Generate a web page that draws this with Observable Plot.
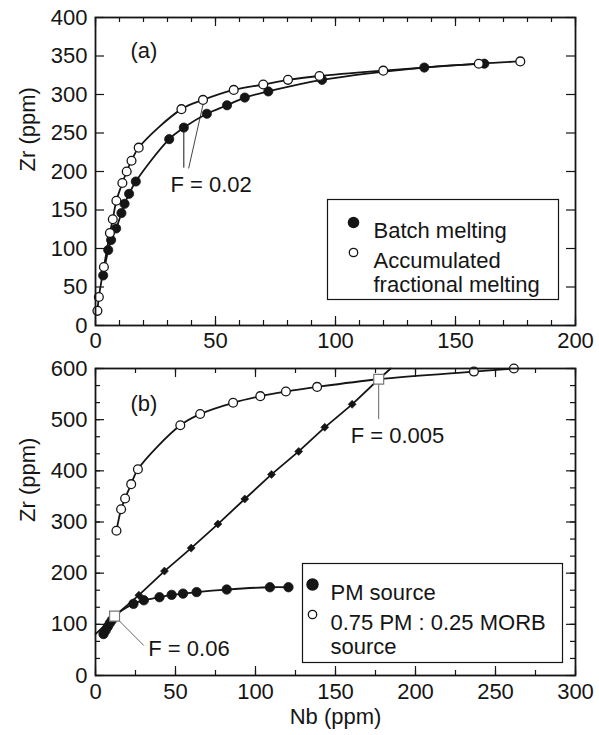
<!DOCTYPE html>
<html><head><meta charset="utf-8">
<script src="https://cdn.jsdelivr.net/npm/d3@7"></script>
<script src="https://cdn.jsdelivr.net/npm/@observablehq/plot@0.6"></script>
<style>
html,body{margin:0;padding:0;background:#fff}
#chart svg{display:block}
</style>
</head><body><div id="chart"></div>
<script>
// ---------- Panel (a) data ----------
const batchNb = [3.2, 5.3, 6.5, 8.6, 10.8, 12.1, 14, 16.8, 30.7, 36.8, 46.4, 54.8, 62.2, 72, 94.4, 137, 162];
const batchZr = [65, 98, 111, 126, 146, 158, 171, 187, 242, 257, 275, 286, 296, 304, 319, 335, 340];
const afmNb = [0.8, 1.4, 3.5, 6, 7.2, 8.7, 11.2, 13, 15, 18, 35.8, 44.8, 57.6, 69.9, 80.2, 93.3, 119.9, 159.7, 177];
const afmZr = [19, 37, 76, 120, 138, 162, 185, 200, 214, 231, 281, 293, 306, 313, 319, 324, 331, 340, 343];
const annotA = {label: "F = 0.02", nb: 48.2, zr: 182, batchIdx: 9, afmIdx: 11, endBatchZr: 205, endAfmNb: 38.8, endAfmZr: 204};
const xTicksA = [0, 50, 100, 150, 200];
const xMinorA = d3.range(0, 201, 10);
const yTicksA = [0, 50, 100, 150, 200, 250, 300, 350, 400];

// ---------- Panel (b) data ----------
const pmNb = [5, 6.3, 7.6, 8.9, 10.2, 23.7, 30.2, 40, 47.6, 54.7, 63.2, 82, 109, 120.6];
const pmZr = [81, 88, 95, 102, 108, 140, 147, 153, 157.6, 160, 163, 168, 172.5, 172.5];
const mixSrcNb = [13.1, 16, 18.5, 22.3, 26.5, 53, 65.4, 86, 103, 119, 138.5, 236.5, 261.5];
const mixSrcZr = [283, 325, 346, 374, 403, 489, 511, 533, 546, 555, 564, 594, 600];
const mixLineNb = [27.1, 43.1, 59.8, 76.5, 93.3, 110, 127, 143.3, 160.4];
const mixLineZr = [157, 204, 249, 296, 345, 393, 438, 485, 530];
const mixEndsNb = [0, 184.5];
const mixEndsZr = [81, 600];
const fSquares = [
  {label: "F = 0.06", nb: 11.9, zr: 116, tx: 33, ty: 52, lx: 30.2, ly: 58.6},
  {label: "F = 0.005", nb: 177, zr: 579, tx: 159.5, ty: 469, lx: 177, ly: 501}
];
const xTicksB = [0, 50, 100, 150, 200, 250, 300];
const xMinorB = d3.range(0, 301, 25);
const yTicksB = [0, 100, 200, 300, 400, 500, 600];
const yMinorB = d3.range(0, 601, 100 / 3);

// ---------- helpers ----------
const zip = (xs, ys) => xs.map((x, i) => ({x, y: ys[i]}));
const FONT = "'Liberation Sans', Arial, Helvetica, sans-serif";
const FS = 22;
const INK = "#151515";
const W = 599, ML = 95, MR = 24;
const IW = W - ML - MR;

function frameTicks(xMajor, xMinor, yMajor, yMinor, ih) {
  const m = [];
  m.push(Plot.tickX(xMinor, {x: d => d, insetTop: ih - 5, stroke: INK, strokeWidth: 1.2}));
  m.push(Plot.tickX(xMinor, {x: d => d, insetBottom: ih - 5, stroke: INK, strokeWidth: 1.2}));
  m.push(Plot.tickX(xMajor, {x: d => d, insetTop: ih - 9, stroke: INK, strokeWidth: 1.2}));
  m.push(Plot.tickX(xMajor, {x: d => d, insetBottom: ih - 9, stroke: INK, strokeWidth: 1.2}));
  if (yMinor) {
    m.push(Plot.tickY(yMinor, {y: d => d, insetRight: IW - 5, stroke: INK, strokeWidth: 1.2}));
    m.push(Plot.tickY(yMinor, {y: d => d, insetLeft: IW - 5, stroke: INK, strokeWidth: 1.2}));
  }
  m.push(Plot.tickY(yMajor, {y: d => d, insetRight: IW - 9, stroke: INK, strokeWidth: 1.2}));
  m.push(Plot.tickY(yMajor, {y: d => d, insetLeft: IW - 9, stroke: INK, strokeWidth: 1.2}));
  return m;
}

// ---------- Panel (a) ----------
const batch = zip(batchNb, batchZr);
const afm = zip(afmNb, afmZr);
const ihA = 308;
const plotA = Plot.plot({
  width: W, height: 352,
  marginLeft: ML, marginRight: MR, marginTop: 17, marginBottom: 27,
  x: {domain: [0, 200], axis: null},
  y: {domain: [0, 400], axis: null},
  style: {fontFamily: FONT, fontSize: FS + "px", color: INK, background: "white"},
  marks: [
    Plot.line(afm, {x: "x", y: "y", curve: "catmull-rom", stroke: INK, strokeWidth: 1.8}),
    Plot.line(batch, {x: "x", y: "y", curve: "catmull-rom", stroke: INK, strokeWidth: 1.8}),
    // leaders for F = 0.02
    Plot.link([annotA], {x1: d => batchNb[d.batchIdx], y1: d => batchZr[d.batchIdx] - 6, x2: d => batchNb[d.batchIdx], y2: d => d.endBatchZr, stroke: INK, strokeWidth: 1}),
    Plot.link([annotA], {x1: d => afmNb[d.afmIdx], y1: d => afmZr[d.afmIdx] - 6, x2: d => d.endAfmNb, y2: d => d.endAfmZr, stroke: INK, strokeWidth: 0.8}),
    Plot.text([annotA], {x: "nb", y: "zr", text: "label", fontSize: FS, fill: INK}),
    Plot.dot(batch, {x: "x", y: "y", r: 4.6, fill: INK, stroke: INK, strokeWidth: 0.8}),
    Plot.dot(afm, {x: "x", y: "y", r: 4.4, fill: "white", stroke: INK, strokeWidth: 1.3}),
    ...frameTicks(xTicksA, xMinorA, yTicksA, null, ihA),
    Plot.frame({stroke: INK, strokeWidth: 1.8}),
    Plot.axisX({ticks: xTicksA, tickSize: 0, tickPadding: 7, label: null, fontSize: FS}),
    Plot.axisY({ticks: yTicksA, tickSize: 0, tickPadding: 8, label: null, fontSize: FS}),
    Plot.text(["Zr (ppm)"], {frameAnchor: "left", dx: -68, rotate: -90, fontSize: FS, fill: INK}),
    Plot.text(["(a)"], {frameAnchor: "top-left", dx: 35, dy: 25, fontSize: FS, fill: INK}),
    // legend
    Plot.frame({insetLeft: 232, insetRight: 17, insetTop: 182, insetBottom: 26, stroke: INK, strokeWidth: 1.2, fill: "white"}),
    Plot.dot([0], {frameAnchor: "top-left", dx: 258, dy: 205, r: 5.8, fill: INK}),
    Plot.dot([0], {frameAnchor: "top-left", dx: 258, dy: 235, r: 4.2, fill: "white", stroke: INK, strokeWidth: 1.3}),
    Plot.text(["Batch melting"], {frameAnchor: "top-left", dx: 278, dy: 205, textAnchor: "start", fontSize: FS, fill: INK}),
    Plot.text(["Accumulated"], {frameAnchor: "top-left", dx: 278, dy: 235, textAnchor: "start", fontSize: FS, fill: INK}),
    Plot.text(["fractional melting"], {frameAnchor: "top-left", dx: 278, dy: 259, textAnchor: "start", fontSize: FS, fill: INK})
  ]
});

// ---------- Panel (b) ----------
const pm = zip(pmNb, pmZr);
const mixSrc = zip(mixSrcNb, mixSrcZr);
const mixSrcLine = [...mixSrc.slice(0, 11), {x: fSquares[1].nb, y: fSquares[1].zr}, ...mixSrc.slice(11)];
const pmLine = [...pm.slice(0, 5), {x: fSquares[0].nb, y: fSquares[0].zr}, ...pm.slice(5)];
const mixPts = zip(mixLineNb, mixLineZr);
const mixLine = [
  {x: mixEndsNb[0], y: mixEndsZr[0]},
  {x: fSquares[0].nb, y: fSquares[0].zr},
  ...mixPts,
  {x: fSquares[1].nb, y: fSquares[1].zr},
  {x: mixEndsNb[1], y: mixEndsZr[1]}
];
const ihB = 307;
const plotB = Plot.plot({
  width: W, height: 383,
  marginLeft: ML, marginRight: MR, marginTop: 16, marginBottom: 60,
  x: {domain: [0, 300], axis: null},
  y: {domain: [0, 600], axis: null},
  style: {fontFamily: FONT, fontSize: FS + "px", color: INK, background: "white"},
  marks: [
    Plot.line(mixLine, {x: "x", y: "y", stroke: INK, strokeWidth: 1.8}),
    Plot.line(mixSrcLine, {x: "x", y: "y", curve: "catmull-rom", stroke: INK, strokeWidth: 1.8}),
    Plot.line(pmLine, {x: "x", y: "y", curve: "catmull-rom", stroke: INK, strokeWidth: 1.8}),
    Plot.link(fSquares, {x1: "nb", y1: "zr", x2: "lx", y2: "ly", stroke: "#555", strokeWidth: 0.9}),
    Plot.text(fSquares, {x: "tx", y: "ty", text: "label", textAnchor: "start", fontSize: FS, fill: INK}),
    Plot.dot(pm, {x: "x", y: "y", r: 4.7, fill: INK, stroke: INK, strokeWidth: 0.8}),
    Plot.dot(mixPts, {x: "x", y: "y", r: 3.6, symbol: "diamond2", fill: INK, stroke: INK, strokeWidth: 0.6}),
    Plot.dot(mixSrc, {x: "x", y: "y", r: 4.4, fill: "white", stroke: INK, strokeWidth: 1.3}),
    Plot.dot(fSquares, {x: "nb", y: "zr", r: 5.6, symbol: "square", fill: "white", stroke: "#777", strokeWidth: 1.2}),
    ...frameTicks(xTicksB, xMinorB, yTicksB, yMinorB, ihB),
    Plot.frame({stroke: INK, strokeWidth: 1.8}),
    Plot.axisX({ticks: xTicksB, tickSize: 0, tickPadding: 8, label: null, fontSize: FS}),
    Plot.axisY({ticks: yTicksB, tickSize: 0, tickPadding: 8, label: null, fontSize: FS}),
    Plot.text(["Zr (ppm)"], {frameAnchor: "left", dx: -68, rotate: -90, fontSize: FS, fill: INK}),
    Plot.text(["Nb (ppm)"], {frameAnchor: "bottom", dy: 48, fontSize: FS, fill: INK}),
    Plot.text(["(b)"], {frameAnchor: "top-left", dx: 35, dy: 27, fontSize: FS, fill: INK}),
    // legend
    Plot.frame({insetLeft: 207, insetRight: 13, insetTop: 195, insetBottom: 13, stroke: INK, strokeWidth: 1.2, fill: "white"}),
    Plot.dot([0], {frameAnchor: "top-left", dx: 217, dy: 216, r: 6.2, fill: INK}),
    Plot.dot([0], {frameAnchor: "top-left", dx: 217, dy: 246, r: 4.2, fill: "white", stroke: INK, strokeWidth: 1.3}),
    Plot.text(["PM source"], {frameAnchor: "top-left", dx: 235, dy: 216, textAnchor: "start", fontSize: FS, fill: INK}),
    Plot.text(["0.75 PM : 0.25 MORB"], {frameAnchor: "top-left", dx: 235, dy: 246, textAnchor: "start", fontSize: FS, fill: INK}),
    Plot.text(["source"], {frameAnchor: "top-left", dx: 235, dy: 270, textAnchor: "start", fontSize: FS, fill: INK})
  ]
});

const root = document.getElementById("chart");
root.appendChild(plotA);
root.appendChild(plotB);
</script>
</body></html>
